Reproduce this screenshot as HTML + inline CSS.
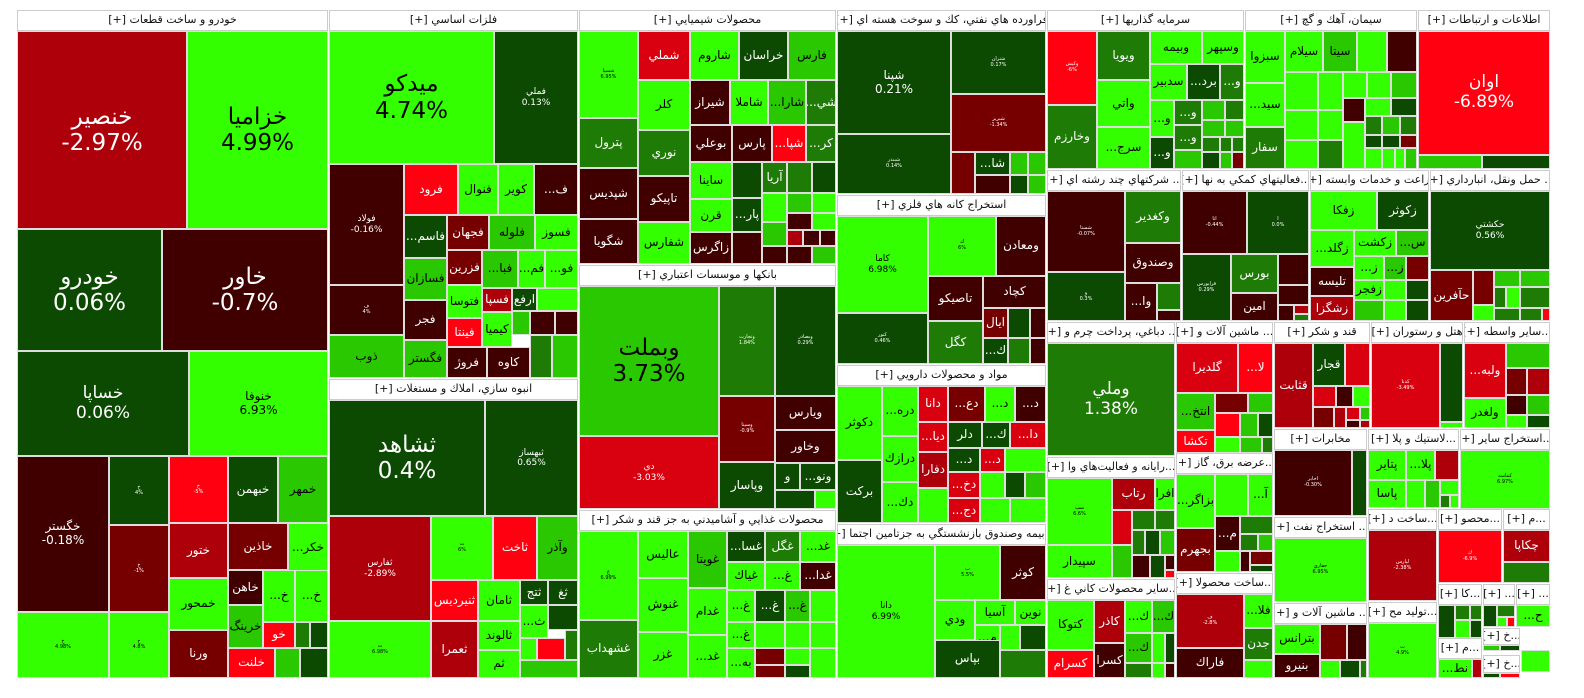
<!DOCTYPE html>
<html><head><meta charset="utf-8">
<style>
html,body{margin:0;padding:0;background:#fff;width:1584px;height:698px;overflow:hidden;position:relative}
.c{position:absolute;left:calc(var(--a)*1px);top:calc(var(--b)*1px);width:calc((var(--c) - var(--a))*1px);height:calc((var(--d) - var(--b))*1px);box-sizing:border-box;border:1px solid #ddd;display:flex;align-items:center;justify-content:center;text-align:center;overflow:hidden;font-family:"DejaVu Sans","Liberation Sans",sans-serif;direction:ltr;font-size:12px;line-height:1.15;white-space:nowrap}
.h{background:#fff;color:#111;font-size:11px;border:1px solid #ccc;direction:rtl}
.g1{background:#33ff00;color:#000}.g2{background:#2ac800;color:#000}.g3{background:#1e7b05;color:#fff}.g4{background:#0b4a00;color:#fff}
.r1{background:#ff0011;color:#fff}.r0{background:#d9000f;color:#fff}.r2{background:#ad000b;color:#fff}.r3{background:#760000;color:#fff}.r4{background:#400000;color:#fff}
.l{font-size:23px}.m2{font-size:17px}.s{font-size:9px}.t{font-size:5px}
</style></head><body>
<!-- Sector 1 -->
<div class="c h" style="--a:17;--b:10;--c:328;--d:31">خودرو و ساخت قطعات [+]</div>
<div class="c r2 l" style="--a:17;--b:31;--c:187;--d:229">خنصير<br>-2.97%</div>
<div class="c g1 l" style="--a:187;--b:31;--c:328;--d:229">خزاميا<br>4.99%</div>
<div class="c g4 l" style="--a:17;--b:229;--c:162;--d:351">خودرو<br>0.06%</div>
<div class="c r4 l" style="--a:162;--b:229;--c:328;--d:351">خاور<br>-0.7%</div>
<div class="c g4 m2" style="--a:17;--b:351;--c:189;--d:456">خساپا<br>0.06%</div>
<div class="c g1" style="--a:189;--b:351;--c:328;--d:456">خنوفا<br>6.93%</div>
<div class="c r4" style="--a:17;--b:456;--c:109;--d:612">خگستر<br>-0.18%</div>
<div class="c g1 t" style="--a:17;--b:612;--c:109;--d:678">خ<br>4.98%</div>
<div class="c g4 t" style="--a:109;--b:456;--c:169;--d:525">خ<br>4%</div>
<div class="c r3 t" style="--a:109;--b:525;--c:169;--d:612">خ<br>-1%</div>
<div class="c g1 t" style="--a:109;--b:612;--c:169;--d:678">خ<br>4.8%</div>
<div class="c r1 t" style="--a:169;--b:456;--c:228;--d:523">خ<br>-5%</div>
<div class="c g4" style="--a:228;--b:456;--c:278;--d:523">خبهمن</div>
<div class="c g2" style="--a:278;--b:456;--c:328;--d:523">خمهر</div>
<div class="c r2" style="--a:169;--b:523;--c:228;--d:578">ختور</div>
<div class="c r3" style="--a:228;--b:523;--c:288;--d:570">خاذين</div>
<div class="c g1" style="--a:288;--b:523;--c:328;--d:572">...خكر</div>
<div class="c g1" style="--a:169;--b:578;--c:228;--d:630">خمحور</div>
<div class="c r4" style="--a:228;--b:570;--c:263;--d:605">خاهن</div>
<div class="c g1" style="--a:263;--b:570;--c:295;--d:622">...خ</div>
<div class="c g1" style="--a:295;--b:570;--c:328;--d:622">...خ</div>
<div class="c g2" style="--a:228;--b:605;--c:263;--d:648">خرينگ</div>
<div class="c r1" style="--a:263;--b:622;--c:295;--d:648">خو</div>
<div class="c g3" style="--a:295;--b:622;--c:310;--d:648"></div>
<div class="c g4" style="--a:310;--b:622;--c:328;--d:648"></div>
<div class="c r3" style="--a:169;--b:630;--c:228;--d:678">ورنا</div>
<div class="c r1" style="--a:228;--b:648;--c:275;--d:678">خلنت</div>
<div class="c g2" style="--a:275;--b:648;--c:300;--d:678"></div>
<div class="c g4" style="--a:300;--b:648;--c:328;--d:678"></div>
<!-- Sector 2 -->
<div class="c h" style="--a:329;--b:10;--c:578;--d:31">فلزات اساسي [+]</div>
<div class="c g1 l" style="--a:329;--b:31;--c:494;--d:164">ميدكو<br>4.74%</div>
<div class="c g4 s" style="--a:494;--b:31;--c:578;--d:164">فملي<br>0.13%</div>
<div class="c r4 s" style="--a:329;--b:164;--c:404;--d:285">فولاد<br>-0.16%</div>
<div class="c r4 t" style="--a:329;--b:285;--c:404;--d:335">ف<br>4%</div>
<div class="c g2" style="--a:329;--b:335;--c:404;--d:378">ذوب</div>
<div class="c r1" style="--a:404;--b:164;--c:458;--d:215">فرود</div>
<div class="c g1" style="--a:458;--b:164;--c:498;--d:215">فنوال</div>
<div class="c g1" style="--a:498;--b:164;--c:534;--d:215">كوير</div>
<div class="c r4" style="--a:534;--b:164;--c:578;--d:215">...ف</div>
<div class="c g4" style="--a:404;--b:215;--c:447;--d:258">...فاسم</div>
<div class="c r3" style="--a:447;--b:215;--c:489;--d:250">فجهان</div>
<div class="c g2" style="--a:489;--b:215;--c:535;--d:250">فلوله</div>
<div class="c g1" style="--a:535;--b:215;--c:578;--d:250">فسوز</div>
<div class="c g2" style="--a:404;--b:258;--c:447;--d:300">فسازان</div>
<div class="c r3" style="--a:447;--b:250;--c:482;--d:285">فزرين</div>
<div class="c g2" style="--a:482;--b:250;--c:518;--d:288">...فبا</div>
<div class="c g1" style="--a:518;--b:250;--c:545;--d:288">...فم</div>
<div class="c g1" style="--a:545;--b:250;--c:578;--d:288">...فو</div>
<div class="c g1" style="--a:447;--b:285;--c:482;--d:318">فتوسا</div>
<div class="c r2" style="--a:482;--b:288;--c:512;--d:312">فسپا</div>
<div class="c g4" style="--a:512;--b:288;--c:537;--d:311">ارفع</div>
<div class="c g1" style="--a:537;--b:288;--c:578;--d:311"></div>
<div class="c r4" style="--a:404;--b:300;--c:447;--d:340">فجر</div>
<div class="c r1" style="--a:447;--b:318;--c:482;--d:347">فينتا</div>
<div class="c g1" style="--a:482;--b:312;--c:512;--d:347">كيميا</div>
<div class="c g2" style="--a:512;--b:311;--c:530;--d:335"></div>
<div class="c r4" style="--a:530;--b:311;--c:555;--d:335"></div>
<div class="c r4" style="--a:555;--b:311;--c:578;--d:335"></div>
<div class="c g2" style="--a:404;--b:340;--c:447;--d:378">فگستر</div>
<div class="c r4" style="--a:447;--b:347;--c:487;--d:378">فروژ</div>
<div class="c r4" style="--a:487;--b:347;--c:530;--d:378">كاوه</div>
<div class="c g3" style="--a:530;--b:335;--c:552;--d:378"></div>
<div class="c g2" style="--a:552;--b:335;--c:578;--d:378"></div>
<!-- Sector 3 -->
<div class="c h" style="--a:329;--b:379;--c:578;--d:400">انبوه سازي، املاك و مستغلات [+]</div>
<div class="c g4 l" style="--a:329;--b:400;--c:485;--d:516">ثشاهد<br>0.4%</div>
<div class="c g4 s" style="--a:485;--b:400;--c:578;--d:516">ثبهساز<br>0.65%</div>
<div class="c r2 s" style="--a:329;--b:516;--c:431;--d:621">ثفارس<br>-2.89%</div>
<div class="c g1 t" style="--a:329;--b:621;--c:431;--d:678">ث<br>6.98%</div>
<div class="c g1 t" style="--a:431;--b:516;--c:493;--d:580">ث<br>6%</div>
<div class="c r1" style="--a:493;--b:516;--c:537;--d:580">ثاخت</div>
<div class="c g2" style="--a:537;--b:516;--c:578;--d:580">وآذر</div>
<div class="c r1" style="--a:431;--b:580;--c:478;--d:621">ثنيرديس</div>
<div class="c g1" style="--a:478;--b:580;--c:520;--d:621">ثامان</div>
<div class="c g4" style="--a:520;--b:580;--c:548;--d:605">ثتج</div>
<div class="c g4" style="--a:548;--b:580;--c:578;--d:605">ثغ</div>
<div class="c g1" style="--a:520;--b:605;--c:548;--d:638">...ث</div>
<div class="c g4" style="--a:548;--b:605;--c:578;--d:630"></div>
<div class="c r2" style="--a:431;--b:621;--c:478;--d:678">ثعمرا</div>
<div class="c g1" style="--a:478;--b:621;--c:520;--d:650">ثالوند</div>
<div class="c g1" style="--a:478;--b:650;--c:520;--d:678">ثم</div>
<div class="c g1" style="--a:520;--b:638;--c:537;--d:660"></div>
<div class="c r1" style="--a:537;--b:638;--c:565;--d:660"></div>
<div class="c g3" style="--a:565;--b:630;--c:578;--d:660"></div>
<div class="c g2" style="--a:520;--b:660;--c:578;--d:678"></div>
<!-- Sector 4 -->
<div class="c h" style="--a:579;--b:10;--c:836;--d:31">محصولات شيميايي [+]</div>
<div class="c g1 t" style="--a:579;--b:31;--c:638;--d:118">شسپا<br>6.95%</div>
<div class="c g3" style="--a:579;--b:118;--c:638;--d:168">پترول</div>
<div class="c r4" style="--a:579;--b:168;--c:638;--d:219">شپديس</div>
<div class="c r4" style="--a:579;--b:219;--c:638;--d:264">شگويا</div>
<div class="c r0" style="--a:638;--b:31;--c:690;--d:80">شملي</div>
<div class="c g1" style="--a:638;--b:80;--c:690;--d:130">كلر</div>
<div class="c g3" style="--a:638;--b:130;--c:690;--d:176">نوري</div>
<div class="c r4" style="--a:638;--b:176;--c:690;--d:222">تاپيكو</div>
<div class="c g1" style="--a:638;--b:222;--c:690;--d:264">شفارس</div>
<div class="c g1" style="--a:690;--b:31;--c:739;--d:80">شاروم</div>
<div class="c g4" style="--a:739;--b:31;--c:788;--d:80">خراسان</div>
<div class="c g2" style="--a:788;--b:31;--c:836;--d:80">فارس</div>
<div class="c r4" style="--a:690;--b:80;--c:730;--d:125">شيراز</div>
<div class="c g1" style="--a:730;--b:80;--c:768;--d:125">شاملا</div>
<div class="c g2" style="--a:768;--b:80;--c:806;--d:125">...شارا</div>
<div class="c g3" style="--a:806;--b:80;--c:836;--d:125">...شي</div>
<div class="c r4" style="--a:690;--b:125;--c:732;--d:162">بوعلي</div>
<div class="c r4" style="--a:732;--b:125;--c:772;--d:162">پارس</div>
<div class="c r1" style="--a:772;--b:125;--c:806;--d:162">...شپا</div>
<div class="c g3" style="--a:806;--b:125;--c:836;--d:162">...كر</div>
<div class="c g1" style="--a:690;--b:162;--c:732;--d:199">ساينا</div>
<div class="c g4" style="--a:732;--b:162;--c:762;--d:198"></div>
<div class="c g3" style="--a:762;--b:162;--c:787;--d:193">آريا</div>
<div class="c g3" style="--a:787;--b:162;--c:812;--d:193"></div>
<div class="c g4" style="--a:812;--b:162;--c:836;--d:193"></div>
<div class="c g1" style="--a:690;--b:199;--c:732;--d:232">قرن</div>
<div class="c g4" style="--a:732;--b:198;--c:762;--d:232">...پار</div>
<div class="c g1" style="--a:762;--b:193;--c:787;--d:222"></div>
<div class="c g2" style="--a:787;--b:193;--c:812;--d:213"></div>
<div class="c g1" style="--a:812;--b:193;--c:836;--d:213"></div>
<div class="c r4" style="--a:787;--b:213;--c:812;--d:230"></div>
<div class="c g1" style="--a:812;--b:213;--c:836;--d:230"></div>
<div class="c r4" style="--a:690;--b:232;--c:732;--d:264">زاگرس</div>
<div class="c r4" style="--a:732;--b:232;--c:762;--d:264"></div>
<div class="c g2" style="--a:762;--b:222;--c:787;--d:246"></div>
<div class="c r4" style="--a:762;--b:246;--c:787;--d:264"></div>
<div class="c r2" style="--a:787;--b:230;--c:803;--d:246"></div>
<div class="c r4" style="--a:803;--b:230;--c:820;--d:246"></div>
<div class="c r4" style="--a:820;--b:230;--c:836;--d:246"></div>
<div class="c r4" style="--a:787;--b:246;--c:812;--d:264"></div>
<div class="c g2" style="--a:812;--b:246;--c:836;--d:264"></div>
<!-- Sector 5 -->
<div class="c h" style="--a:579;--b:265;--c:836;--d:286">بانكها و موسسات اعتباري [+]</div>
<div class="c g2 l" style="--a:579;--b:286;--c:719;--d:436">وبملت<br>3.73%</div>
<div class="c g3 t" style="--a:719;--b:286;--c:775;--d:396">وتجارت<br>1.84%</div>
<div class="c g4 t" style="--a:775;--b:286;--c:836;--d:396">وبصادر<br>0.29%</div>
<div class="c r0 s" style="--a:579;--b:436;--c:719;--d:509">دي<br>-3.03%</div>
<div class="c r3 t" style="--a:719;--b:396;--c:775;--d:462">وسينا<br>-0.9%</div>
<div class="c r4" style="--a:775;--b:396;--c:836;--d:430">ويارس</div>
<div class="c r4" style="--a:775;--b:430;--c:836;--d:463">وخاور</div>
<div class="c g4" style="--a:719;--b:462;--c:775;--d:509">وپاسار</div>
<div class="c g4" style="--a:775;--b:463;--c:800;--d:490">و</div>
<div class="c g4" style="--a:800;--b:463;--c:836;--d:490">...ونو</div>
<div class="c g4" style="--a:775;--b:490;--c:815;--d:509"></div>
<div class="c g1" style="--a:815;--b:490;--c:836;--d:509"></div>
<!-- Sector 6 -->
<div class="c h" style="--a:579;--b:510;--c:836;--d:531">محصولات غذايي و آشاميدني به جز قند و شكر [+]</div>
<div class="c g1 t" style="--a:579;--b:531;--c:638;--d:620">غ<br>6.99%</div>
<div class="c g3" style="--a:579;--b:620;--c:638;--d:678">غشهداب</div>
<div class="c g1" style="--a:638;--b:531;--c:688;--d:578">عاليس</div>
<div class="c g1" style="--a:638;--b:578;--c:688;--d:632">غنوش</div>
<div class="c g1" style="--a:638;--b:632;--c:688;--d:678">غزر</div>
<div class="c g2" style="--a:688;--b:531;--c:727;--d:588">غويتا</div>
<div class="c g1" style="--a:688;--b:588;--c:727;--d:635">غدام</div>
<div class="c g1" style="--a:688;--b:635;--c:727;--d:678">...غد</div>
<div class="c g4" style="--a:727;--b:531;--c:765;--d:562">...غسا</div>
<div class="c g3" style="--a:765;--b:531;--c:800;--d:562">غگل</div>
<div class="c g1" style="--a:800;--b:531;--c:836;--d:562">...غد</div>
<div class="c g1" style="--a:727;--b:562;--c:765;--d:590">غياك</div>
<div class="c g1" style="--a:765;--b:562;--c:800;--d:590">...غ</div>
<div class="c r4" style="--a:800;--b:562;--c:836;--d:590">...غدا</div>
<div class="c g1" style="--a:727;--b:590;--c:755;--d:622">...غ</div>
<div class="c g4" style="--a:755;--b:590;--c:785;--d:622">...غ</div>
<div class="c g2" style="--a:785;--b:590;--c:810;--d:622">...غ</div>
<div class="c g1" style="--a:810;--b:590;--c:836;--d:622"></div>
<div class="c g1" style="--a:727;--b:622;--c:755;--d:648">...غ</div>
<div class="c g1" style="--a:755;--b:622;--c:785;--d:648"></div>
<div class="c g1" style="--a:785;--b:622;--c:810;--d:648"></div>
<div class="c g1" style="--a:810;--b:622;--c:836;--d:648"></div>
<div class="c g1" style="--a:727;--b:648;--c:755;--d:678">...به</div>
<div class="c r3" style="--a:755;--b:648;--c:785;--d:665"></div>
<div class="c g1" style="--a:785;--b:648;--c:810;--d:665"></div>
<div class="c g1" style="--a:810;--b:648;--c:836;--d:678"></div>
<div class="c r3" style="--a:755;--b:665;--c:785;--d:678"></div>
<div class="c g4" style="--a:785;--b:665;--c:810;--d:678"></div>
<!-- Sector 7 -->
<div class="c h" style="--a:837;--b:10;--c:1046;--d:31">فراورده هاي نفتي، كك و سوخت هسته اي [+]</div>
<div class="c g4" style="--a:837;--b:31;--c:951;--d:134">شپنا<br>0.21%</div>
<div class="c g4 t" style="--a:837;--b:134;--c:951;--d:194">شبندر<br>0.14%</div>
<div class="c g4 t" style="--a:951;--b:31;--c:1046;--d:94">شتران<br>0.17%</div>
<div class="c r3 t" style="--a:951;--b:94;--c:1046;--d:152">شبريز<br>-1.34%</div>
<div class="c r3" style="--a:951;--b:152;--c:975;--d:194"></div>
<div class="c g4" style="--a:975;--b:152;--c:1010;--d:175">...شا</div>
<div class="c g2" style="--a:1010;--b:152;--c:1028;--d:175"></div>
<div class="c g2" style="--a:1028;--b:152;--c:1046;--d:175"></div>
<div class="c r4" style="--a:975;--b:175;--c:1010;--d:194"></div>
<div class="c g4" style="--a:1010;--b:175;--c:1028;--d:194"></div>
<div class="c g2" style="--a:1028;--b:175;--c:1046;--d:194"></div>
<!-- Sector 8 -->
<div class="c h" style="--a:837;--b:195;--c:1046;--d:216">استخراج كانه هاي فلزي [+]</div>
<div class="c g1 s" style="--a:837;--b:216;--c:928;--d:313">كاما<br>6.98%</div>
<div class="c g1 t" style="--a:928;--b:216;--c:996;--d:276">ك<br>6%</div>
<div class="c r4" style="--a:996;--b:216;--c:1046;--d:276">ومعادن</div>
<div class="c r4" style="--a:928;--b:276;--c:983;--d:321">تاصيكو</div>
<div class="c r4" style="--a:983;--b:276;--c:1046;--d:308">كچاد</div>
<div class="c r3" style="--a:983;--b:308;--c:1008;--d:338">ايال</div>
<div class="c g4" style="--a:1008;--b:308;--c:1030;--d:338"></div>
<div class="c r4" style="--a:1030;--b:308;--c:1046;--d:338"></div>
<div class="c g4 t" style="--a:837;--b:313;--c:928;--d:364">كنور<br>0.46%</div>
<div class="c g3" style="--a:928;--b:321;--c:983;--d:364">كگل</div>
<div class="c g4" style="--a:983;--b:338;--c:1008;--d:364">...ك</div>
<div class="c g3" style="--a:1008;--b:338;--c:1030;--d:364"></div>
<div class="c r4" style="--a:1030;--b:338;--c:1046;--d:364"></div>
<!-- Sector 9 -->
<div class="c h" style="--a:837;--b:365;--c:1046;--d:386">مواد و محصولات دارويي [+]</div>
<div class="c g1" style="--a:837;--b:386;--c:882;--d:460">دكوثر</div>
<div class="c g1" style="--a:882;--b:386;--c:918;--d:436">...دره</div>
<div class="c g1" style="--a:882;--b:436;--c:918;--d:482">درازك</div>
<div class="c g4" style="--a:837;--b:460;--c:882;--d:523">بركت</div>
<div class="c g1" style="--a:882;--b:482;--c:918;--d:523">...دك</div>
<div class="c r0" style="--a:918;--b:386;--c:948;--d:422">دانا</div>
<div class="c r3" style="--a:948;--b:386;--c:985;--d:422">...دع</div>
<div class="c g1" style="--a:985;--b:386;--c:1015;--d:422">...د</div>
<div class="c r4" style="--a:1015;--b:386;--c:1046;--d:422">...د</div>
<div class="c r0" style="--a:918;--b:422;--c:948;--d:452">...ديا</div>
<div class="c g4" style="--a:948;--b:422;--c:982;--d:448">دلر</div>
<div class="c g4" style="--a:982;--b:422;--c:1010;--d:448">...ك</div>
<div class="c r0" style="--a:1010;--b:422;--c:1046;--d:448">...دا</div>
<div class="c r2" style="--a:918;--b:452;--c:948;--d:488">دفارا</div>
<div class="c g4" style="--a:948;--b:448;--c:980;--d:472">...د</div>
<div class="c r0" style="--a:980;--b:448;--c:1005;--d:472">...د</div>
<div class="c g1" style="--a:1005;--b:448;--c:1046;--d:472"></div>
<div class="c r0" style="--a:948;--b:472;--c:980;--d:498">...دخ</div>
<div class="c g1" style="--a:980;--b:472;--c:1005;--d:498"></div>
<div class="c g4" style="--a:1005;--b:472;--c:1025;--d:498"></div>
<div class="c g2" style="--a:1025;--b:472;--c:1046;--d:498"></div>
<div class="c g1" style="--a:918;--b:488;--c:948;--d:523"></div>
<div class="c r0" style="--a:948;--b:498;--c:980;--d:523">...دج</div>
<div class="c g1" style="--a:980;--b:498;--c:1010;--d:523"></div>
<div class="c g1" style="--a:1010;--b:498;--c:1046;--d:523"></div>
<!-- Sector 10 -->
<div class="c h" style="--a:837;--b:524;--c:1046;--d:545">...بيمه وصندوق بازنشستگي به جزتامين اجتما [+]</div>
<div class="c g1 s" style="--a:837;--b:545;--c:935;--d:678">دانا<br>6.99%</div>
<div class="c g1 t" style="--a:935;--b:545;--c:1000;--d:600">ب<br>5.5%</div>
<div class="c r4" style="--a:1000;--b:545;--c:1046;--d:600">كوثر</div>
<div class="c g1" style="--a:935;--b:600;--c:975;--d:640">ودي</div>
<div class="c g1" style="--a:975;--b:600;--c:1015;--d:625">آسيا</div>
<div class="c g1" style="--a:1015;--b:600;--c:1046;--d:625">نوين</div>
<div class="c g1" style="--a:975;--b:625;--c:1000;--d:650">...م</div>
<div class="c g1" style="--a:1000;--b:625;--c:1020;--d:650"></div>
<div class="c g4" style="--a:1020;--b:625;--c:1046;--d:650"></div>
<div class="c g4" style="--a:935;--b:640;--c:1000;--d:678">بپاس</div>
<div class="c g3" style="--a:1000;--b:650;--c:1046;--d:678"></div>
<!-- Sector 11 -->
<div class="c h" style="--a:1047;--b:10;--c:1244;--d:31">سرمايه گذاريها [+]</div>
<div class="c r1 t" style="--a:1047;--b:31;--c:1097;--d:105">وكيش<br>-6%</div>
<div class="c g3" style="--a:1047;--b:105;--c:1097;--d:169">وخارزم</div>
<div class="c g3" style="--a:1097;--b:31;--c:1150;--d:80">ويويا</div>
<div class="c g1" style="--a:1097;--b:80;--c:1150;--d:127">واتي</div>
<div class="c g1" style="--a:1097;--b:127;--c:1150;--d:169">...سرج</div>
<div class="c g1" style="--a:1150;--b:31;--c:1202;--d:64">وبيمه</div>
<div class="c g1" style="--a:1202;--b:31;--c:1244;--d:64">وسپهر</div>
<div class="c g1" style="--a:1150;--b:64;--c:1187;--d:100">سدبير</div>
<div class="c g4" style="--a:1187;--b:64;--c:1220;--d:100">...برد</div>
<div class="c g3" style="--a:1220;--b:64;--c:1244;--d:100">...و</div>
<div class="c g1" style="--a:1150;--b:100;--c:1174;--d:137">...و</div>
<div class="c g3" style="--a:1174;--b:100;--c:1202;--d:125">...و</div>
<div class="c g2" style="--a:1202;--b:100;--c:1225;--d:120"></div>
<div class="c g3" style="--a:1225;--b:100;--c:1244;--d:120"></div>
<div class="c g4" style="--a:1150;--b:137;--c:1174;--d:169">...و</div>
<div class="c g3" style="--a:1174;--b:125;--c:1202;--d:150">...و</div>
<div class="c g2" style="--a:1202;--b:120;--c:1225;--d:137"></div>
<div class="c g2" style="--a:1225;--b:120;--c:1244;--d:137"></div>
<div class="c g2" style="--a:1174;--b:150;--c:1202;--d:169"></div>
<div class="c g3" style="--a:1202;--b:137;--c:1220;--d:152"></div>
<div class="c g3" style="--a:1220;--b:137;--c:1232;--d:152"></div>
<div class="c g3" style="--a:1232;--b:137;--c:1244;--d:152"></div>
<div class="c g4" style="--a:1202;--b:152;--c:1220;--d:169"></div>
<div class="c g2" style="--a:1220;--b:152;--c:1232;--d:169"></div>
<div class="c r3" style="--a:1232;--b:152;--c:1244;--d:169"></div>
<!-- Sector 12 -->
<div class="c h" style="--a:1245;--b:10;--c:1417;--d:31">سيمان، آهك و گچ [+]</div>
<div class="c g1" style="--a:1245;--b:31;--c:1285;--d:83">سبزوا</div>
<div class="c g1" style="--a:1245;--b:83;--c:1285;--d:127">...سيد</div>
<div class="c g3" style="--a:1245;--b:127;--c:1285;--d:169">سفار</div>
<div class="c g1" style="--a:1285;--b:31;--c:1323;--d:72">سيلام</div>
<div class="c g2" style="--a:1323;--b:31;--c:1357;--d:72">سيتا</div>
<div class="c g1" style="--a:1357;--b:31;--c:1387;--d:72"></div>
<div class="c r4" style="--a:1387;--b:31;--c:1417;--d:72"></div>
<div class="c g1" style="--a:1285;--b:72;--c:1318;--d:110"></div>
<div class="c g1" style="--a:1318;--b:72;--c:1343;--d:110"></div>
<div class="c g1" style="--a:1343;--b:72;--c:1367;--d:98"></div>
<div class="c g1" style="--a:1367;--b:72;--c:1391;--d:98"></div>
<div class="c g2" style="--a:1391;--b:72;--c:1417;--d:98"></div>
<div class="c g1" style="--a:1285;--b:110;--c:1318;--d:140"></div>
<div class="c g1" style="--a:1318;--b:110;--c:1343;--d:140"></div>
<div class="c r4" style="--a:1343;--b:98;--c:1365;--d:122"></div>
<div class="c g1" style="--a:1365;--b:98;--c:1391;--d:116"></div>
<div class="c g4" style="--a:1391;--b:98;--c:1417;--d:116"></div>
<div class="c g3" style="--a:1365;--b:116;--c:1382;--d:135"></div>
<div class="c g2" style="--a:1382;--b:116;--c:1400;--d:135"></div>
<div class="c g3" style="--a:1400;--b:116;--c:1417;--d:135"></div>
<div class="c g1" style="--a:1285;--b:140;--c:1318;--d:169"></div>
<div class="c g3" style="--a:1318;--b:140;--c:1343;--d:169"></div>
<div class="c g1" style="--a:1343;--b:122;--c:1365;--d:169"></div>
<div class="c g4" style="--a:1365;--b:135;--c:1382;--d:148"></div>
<div class="c g4" style="--a:1382;--b:135;--c:1400;--d:148"></div>
<div class="c r3" style="--a:1400;--b:135;--c:1417;--d:148"></div>
<div class="c g1" style="--a:1365;--b:148;--c:1382;--d:169"></div>
<div class="c g1" style="--a:1382;--b:148;--c:1395;--d:169"></div>
<div class="c g1" style="--a:1395;--b:148;--c:1405;--d:169"></div>
<div class="c g2" style="--a:1405;--b:148;--c:1417;--d:169"></div>
<!-- Sector 13 -->
<div class="c h" style="--a:1418;--b:10;--c:1550;--d:31">اطلاعات و ارتباطات [+]</div>
<div class="c r1 m2" style="--a:1418;--b:31;--c:1550;--d:155">اوان<br>-6.89%</div>
<div class="c g2" style="--a:1418;--b:155;--c:1482;--d:169"></div>
<div class="c g4" style="--a:1482;--b:155;--c:1550;--d:169"></div>
<!-- Sector 14 -->
<div class="c h" style="--a:1047;--b:170;--c:1181;--d:191">... شركتهاي چند رشته اي [+]</div>
<div class="c r4 t" style="--a:1047;--b:191;--c:1125;--d:272">شستا<br>-0.07%</div>
<div class="c g3" style="--a:1125;--b:191;--c:1181;--d:243">وكغدير</div>
<div class="c r4" style="--a:1125;--b:243;--c:1181;--d:283">وصندوق</div>
<div class="c g4 t" style="--a:1047;--b:272;--c:1125;--d:321">و<br>0.3%</div>
<div class="c r4" style="--a:1125;--b:283;--c:1157;--d:321">...وا</div>
<div class="c g3" style="--a:1157;--b:283;--c:1181;--d:310"></div>
<div class="c r4" style="--a:1157;--b:310;--c:1181;--d:321"></div>
<!-- Sector 15 -->
<div class="c h" style="--a:1182;--b:170;--c:1309;--d:191">...فعاليتهاي كمكي به نها [+]</div>
<div class="c r4 t" style="--a:1182;--b:191;--c:1247;--d:254">اتا<br>-0.44%</div>
<div class="c g4 t" style="--a:1247;--b:191;--c:1309;--d:254">ا<br>0.0%</div>
<div class="c g4 t" style="--a:1182;--b:254;--c:1231;--d:321">فرابورس<br>0.29%</div>
<div class="c g3" style="--a:1231;--b:254;--c:1278;--d:293">بورس</div>
<div class="c r4" style="--a:1231;--b:293;--c:1278;--d:321">امين</div>
<div class="c r4" style="--a:1278;--b:254;--c:1309;--d:285"></div>
<div class="c r4" style="--a:1278;--b:285;--c:1309;--d:305"></div>
<div class="c r4" style="--a:1278;--b:305;--c:1294;--d:321"></div>
<div class="c r2" style="--a:1294;--b:305;--c:1309;--d:314"></div>
<div class="c g3" style="--a:1294;--b:314;--c:1309;--d:321"></div>
<!-- Sector 16 -->
<div class="c h" style="--a:1310;--b:170;--c:1429;--d:191">زراعت و خدمات وابسته [+]</div>
<div class="c g1" style="--a:1310;--b:191;--c:1377;--d:230">زفكا</div>
<div class="c g4" style="--a:1377;--b:191;--c:1429;--d:230">زكوثر</div>
<div class="c g1" style="--a:1310;--b:230;--c:1354;--d:267">...زگلد</div>
<div class="c g1" style="--a:1354;--b:230;--c:1396;--d:256">زكشت</div>
<div class="c g2" style="--a:1396;--b:230;--c:1429;--d:256">...س</div>
<div class="c g1" style="--a:1354;--b:256;--c:1384;--d:280">...ز</div>
<div class="c g2" style="--a:1384;--b:256;--c:1406;--d:280">...ز</div>
<div class="c r3" style="--a:1406;--b:256;--c:1429;--d:280"></div>
<div class="c r4" style="--a:1310;--b:267;--c:1354;--d:296">تليسه</div>
<div class="c g1" style="--a:1354;--b:280;--c:1384;--d:300">زفجر</div>
<div class="c g1" style="--a:1384;--b:280;--c:1406;--d:300"></div>
<div class="c g4" style="--a:1406;--b:280;--c:1429;--d:300"></div>
<div class="c r2" style="--a:1310;--b:296;--c:1354;--d:321">زشگزا</div>
<div class="c g2" style="--a:1354;--b:300;--c:1384;--d:321"></div>
<div class="c g1" style="--a:1384;--b:300;--c:1406;--d:321"></div>
<div class="c g4" style="--a:1406;--b:300;--c:1429;--d:321"></div>
<!-- Sector 17 -->
<div class="c h" style="--a:1430;--b:170;--c:1550;--d:191">... حمل ونقل، انبارداري [+]</div>
<div class="c g4 s" style="--a:1430;--b:191;--c:1550;--d:270">حكشتي<br>0.56%</div>
<div class="c r3" style="--a:1430;--b:270;--c:1473;--d:321">حآفرين</div>
<div class="c r3" style="--a:1473;--b:270;--c:1494;--d:305"></div>
<div class="c g1" style="--a:1473;--b:305;--c:1494;--d:321"></div>
<div class="c g2" style="--a:1494;--b:270;--c:1520;--d:287"></div>
<div class="c g2" style="--a:1520;--b:270;--c:1550;--d:287"></div>
<div class="c g3" style="--a:1494;--b:287;--c:1506;--d:308"></div>
<div class="c g1" style="--a:1506;--b:287;--c:1520;--d:308"></div>
<div class="c g3" style="--a:1520;--b:287;--c:1550;--d:308"></div>
<div class="c g3" style="--a:1494;--b:308;--c:1520;--d:321"></div>
<div class="c g3" style="--a:1520;--b:308;--c:1542;--d:321"></div>
<div class="c r1" style="--a:1542;--b:308;--c:1550;--d:321"></div>
<!-- Sector 18 -->
<div class="c h" style="--a:1047;--b:322;--c:1175;--d:343">... دباغي، پرداخت چرم و [+]</div>
<div class="c g3 m2" style="--a:1047;--b:343;--c:1175;--d:456">وملي<br>1.38%</div>
<!-- Sector 19 -->
<div class="c h" style="--a:1176;--b:322;--c:1273;--d:343">... ماشين آلات و [+]</div>
<div class="c r0" style="--a:1176;--b:343;--c:1238;--d:393">گلديرا</div>
<div class="c r1" style="--a:1238;--b:343;--c:1273;--d:393">...لا</div>
<div class="c g2" style="--a:1176;--b:393;--c:1215;--d:430">...انتخ</div>
<div class="c r1" style="--a:1176;--b:430;--c:1215;--d:453">تكشا</div>
<div class="c r3" style="--a:1215;--b:393;--c:1248;--d:413"></div>
<div class="c g2" style="--a:1248;--b:393;--c:1273;--d:413"></div>
<div class="c r1" style="--a:1215;--b:413;--c:1240;--d:437"></div>
<div class="c g2" style="--a:1240;--b:413;--c:1258;--d:437"></div>
<div class="c g4" style="--a:1258;--b:413;--c:1273;--d:437"></div>
<div class="c g1" style="--a:1215;--b:437;--c:1240;--d:453"></div>
<div class="c g2" style="--a:1240;--b:437;--c:1262;--d:453"></div>
<div class="c g3" style="--a:1262;--b:437;--c:1273;--d:453"></div>
<!-- Sector 20 -->
<div class="c h" style="--a:1047;--b:457;--c:1175;--d:478">...رايانه و فعاليت‌هاي وا [+]</div>
<div class="c g1 t" style="--a:1047;--b:478;--c:1112;--d:545">سپ<br>6.6%</div>
<div class="c g1" style="--a:1047;--b:545;--c:1112;--d:578">سپيدار</div>
<div class="c r2" style="--a:1112;--b:478;--c:1155;--d:510">رتاب</div>
<div class="c g1" style="--a:1155;--b:478;--c:1175;--d:510">افرا</div>
<div class="c r0" style="--a:1112;--b:510;--c:1132;--d:545"></div>
<div class="c g3" style="--a:1132;--b:510;--c:1155;--d:530"></div>
<div class="c g3" style="--a:1155;--b:510;--c:1175;--d:530"></div>
<div class="c g3" style="--a:1132;--b:530;--c:1145;--d:555"></div>
<div class="c g4" style="--a:1145;--b:530;--c:1160;--d:555"></div>
<div class="c g2" style="--a:1160;--b:530;--c:1175;--d:555"></div>
<div class="c g2" style="--a:1112;--b:545;--c:1132;--d:578"></div>
<div class="c r4" style="--a:1132;--b:555;--c:1150;--d:578"></div>
<div class="c g4" style="--a:1150;--b:555;--c:1165;--d:578"></div>
<div class="c r4" style="--a:1165;--b:555;--c:1175;--d:570"></div>
<div class="c r1" style="--a:1165;--b:570;--c:1175;--d:578"></div>
<!-- Sector 21 -->
<div class="c h" style="--a:1176;--b:453;--c:1273;--d:474">...عرضه برق، گاز [+]</div>
<div class="c g1" style="--a:1176;--b:474;--c:1215;--d:528">...بزاگر</div>
<div class="c g1" style="--a:1215;--b:474;--c:1248;--d:516"></div>
<div class="c g1" style="--a:1248;--b:474;--c:1273;--d:516">...آ</div>
<div class="c r3" style="--a:1176;--b:528;--c:1215;--d:572">بجهرم</div>
<div class="c r4" style="--a:1215;--b:516;--c:1240;--d:551">...م</div>
<div class="c g3" style="--a:1240;--b:516;--c:1273;--d:534"></div>
<div class="c g3" style="--a:1240;--b:534;--c:1258;--d:551"></div>
<div class="c g2" style="--a:1258;--b:534;--c:1273;--d:551"></div>
<div class="c g1" style="--a:1215;--b:551;--c:1240;--d:572"></div>
<div class="c r4" style="--a:1240;--b:551;--c:1250;--d:572"></div>
<div class="c r3" style="--a:1250;--b:551;--c:1273;--d:565"></div>
<div class="c g4" style="--a:1250;--b:565;--c:1273;--d:572"></div>
<!-- Sector 22 -->
<div class="c h" style="--a:1047;--b:579;--c:1175;--d:600">...ساير محصولات كاني غ [+]</div>
<div class="c g1" style="--a:1047;--b:600;--c:1094;--d:650">كتوكا</div>
<div class="c r1" style="--a:1047;--b:650;--c:1094;--d:678">كسرام</div>
<div class="c r2" style="--a:1094;--b:600;--c:1125;--d:643">كاذر</div>
<div class="c r4" style="--a:1094;--b:643;--c:1125;--d:678">كسرا</div>
<div class="c g1" style="--a:1125;--b:600;--c:1152;--d:633">...ك</div>
<div class="c g2" style="--a:1152;--b:600;--c:1175;--d:633">...ك</div>
<div class="c g2" style="--a:1125;--b:633;--c:1152;--d:663">...ك</div>
<div class="c g1" style="--a:1152;--b:633;--c:1165;--d:663"></div>
<div class="c g4" style="--a:1165;--b:633;--c:1175;--d:663"></div>
<div class="c g3" style="--a:1125;--b:663;--c:1152;--d:678"></div>
<div class="c g1" style="--a:1152;--b:663;--c:1165;--d:678"></div>
<div class="c r4" style="--a:1165;--b:663;--c:1175;--d:678"></div>
<!-- Sector 23 -->
<div class="c h" style="--a:1176;--b:573;--c:1273;--d:594">...ساخت محصولا [+]</div>
<div class="c r2 t" style="--a:1176;--b:594;--c:1244;--d:648">ف<br>-2.8%</div>
<div class="c g1" style="--a:1244;--b:594;--c:1273;--d:628">...فلا</div>
<div class="c g3" style="--a:1244;--b:628;--c:1273;--d:660">جدن</div>
<div class="c r4" style="--a:1176;--b:648;--c:1244;--d:678">فاراك</div>
<div class="c g1" style="--a:1244;--b:660;--c:1273;--d:678"></div>
<!-- Sector 24 -->
<div class="c h" style="--a:1274;--b:322;--c:1370;--d:343">قند و شكر [+]</div>
<div class="c r2" style="--a:1274;--b:343;--c:1313;--d:428">قثابت</div>
<div class="c g4" style="--a:1313;--b:343;--c:1345;--d:386">قجار</div>
<div class="c r0" style="--a:1345;--b:343;--c:1370;--d:386"></div>
<div class="c r0" style="--a:1313;--b:386;--c:1336;--d:407"></div>
<div class="c r4" style="--a:1336;--b:386;--c:1353;--d:407"></div>
<div class="c g1" style="--a:1353;--b:386;--c:1370;--d:407"></div>
<div class="c r3" style="--a:1313;--b:407;--c:1334;--d:428"></div>
<div class="c r2" style="--a:1334;--b:407;--c:1346;--d:428"></div>
<div class="c r0" style="--a:1346;--b:407;--c:1360;--d:420"></div>
<div class="c g2" style="--a:1360;--b:407;--c:1370;--d:420"></div>
<div class="c r4" style="--a:1346;--b:420;--c:1360;--d:428"></div>
<div class="c r2" style="--a:1360;--b:420;--c:1370;--d:428"></div>
<!-- Sector 25 -->
<div class="c h" style="--a:1371;--b:322;--c:1463;--d:343">هتل و رستوران [+]</div>
<div class="c r0 t" style="--a:1371;--b:343;--c:1440;--d:428">كدنا<br>-3.49%</div>
<div class="c g4" style="--a:1440;--b:343;--c:1463;--d:422"></div>
<div class="c g1" style="--a:1440;--b:422;--c:1463;--d:428"></div>
<!-- Sector 26 -->
<div class="c h" style="--a:1464;--b:322;--c:1550;--d:343">...ساير واسطه [+]</div>
<div class="c r0" style="--a:1464;--b:343;--c:1506;--d:398">...ولبه</div>
<div class="c g1" style="--a:1464;--b:398;--c:1506;--d:428">ولغدر</div>
<div class="c g2" style="--a:1506;--b:343;--c:1550;--d:368"></div>
<div class="c r3" style="--a:1506;--b:368;--c:1527;--d:395"></div>
<div class="c r2" style="--a:1527;--b:368;--c:1550;--d:395"></div>
<div class="c r4" style="--a:1506;--b:395;--c:1527;--d:415"></div>
<div class="c g2" style="--a:1527;--b:395;--c:1550;--d:415"></div>
<div class="c g1" style="--a:1506;--b:415;--c:1527;--d:428"></div>
<div class="c g4" style="--a:1527;--b:415;--c:1550;--d:428"></div>
<!-- Sector 27 -->
<div class="c h" style="--a:1274;--b:429;--c:1367;--d:450">مخابرات [+]</div>
<div class="c r4 t" style="--a:1274;--b:450;--c:1352;--d:516">اخابر<br>-0.30%</div>
<div class="c g4" style="--a:1352;--b:450;--c:1367;--d:516"></div>
<!-- Sector 28 -->
<div class="c h" style="--a:1368;--b:429;--c:1459;--d:450">...لاستيك و پلا [+]</div>
<div class="c g1" style="--a:1368;--b:450;--c:1406;--d:480">پتاير</div>
<div class="c g1" style="--a:1406;--b:450;--c:1435;--d:480">...پلا</div>
<div class="c r2" style="--a:1435;--b:450;--c:1459;--d:480"></div>
<div class="c g1" style="--a:1368;--b:480;--c:1406;--d:508">پاسا</div>
<div class="c g1" style="--a:1406;--b:480;--c:1425;--d:508"></div>
<div class="c g2" style="--a:1425;--b:480;--c:1440;--d:508"></div>
<div class="c g1" style="--a:1440;--b:480;--c:1459;--d:495"></div>
<div class="c g3" style="--a:1440;--b:495;--c:1450;--d:508"></div>
<div class="c g1" style="--a:1450;--b:495;--c:1459;--d:508"></div>
<!-- Sector 29 -->
<div class="c h" style="--a:1460;--b:429;--c:1550;--d:450">...استخراج ساير [+]</div>
<div class="c g1 t" style="--a:1460;--b:450;--c:1550;--d:509">كماسه<br>6.97%</div>
<!-- Sector 30 -->
<div class="c h" style="--a:1274;--b:517;--c:1367;--d:538">... استخراج نفت [+]</div>
<div class="c g1 t" style="--a:1274;--b:538;--c:1367;--d:602">حفاري<br>6.95%</div>
<!-- Sector 31 -->
<div class="c h" style="--a:1274;--b:603;--c:1367;--d:624">... ماشين آلات و [+]</div>
<div class="c g1" style="--a:1274;--b:624;--c:1320;--d:654">بترانس</div>
<div class="c r4" style="--a:1274;--b:654;--c:1320;--d:678">بنيرو</div>
<div class="c r3" style="--a:1320;--b:624;--c:1347;--d:660"></div>
<div class="c r4" style="--a:1347;--b:624;--c:1367;--d:660"></div>
<div class="c g1" style="--a:1320;--b:660;--c:1340;--d:678"></div>
<div class="c g4" style="--a:1340;--b:660;--c:1360;--d:678"></div>
<div class="c g3" style="--a:1360;--b:660;--c:1367;--d:678"></div>
<!-- Sector 32-35 -->
<div class="c h" style="--a:1368;--b:509;--c:1437;--d:530">...ساخت د [+]</div>
<div class="c r2 t" style="--a:1368;--b:530;--c:1437;--d:601">لپارس<br>-2.38%</div>
<div class="c h" style="--a:1438;--b:509;--c:1502;--d:530">...محصو [+]</div>
<div class="c r1 t" style="--a:1438;--b:530;--c:1502;--d:583">ك<br>-6.9%</div>
<div class="c h" style="--a:1503;--b:509;--c:1550;--d:530">...م [+]</div>
<div class="c r2" style="--a:1503;--b:530;--c:1550;--d:562">چكاپا</div>
<div class="c g3" style="--a:1503;--b:562;--c:1550;--d:583"></div>
<div class="c h" style="--a:1368;--b:602;--c:1437;--d:623">...توليد مح [+]</div>
<div class="c g1 t" style="--a:1368;--b:623;--c:1437;--d:678">ت<br>4.9%</div>
<div class="c h" style="--a:1438;--b:584;--c:1482;--d:605">...كا [+]</div>
<div class="c g4" style="--a:1438;--b:605;--c:1455;--d:638"></div>
<div class="c g3" style="--a:1455;--b:605;--c:1470;--d:620"></div>
<div class="c g3" style="--a:1470;--b:605;--c:1482;--d:620"></div>
<div class="c g1" style="--a:1455;--b:620;--c:1470;--d:638"></div>
<div class="c g4" style="--a:1470;--b:620;--c:1482;--d:638"></div>
<div class="c h" style="--a:1483;--b:584;--c:1515;--d:605">... [+]</div>
<div class="c g4" style="--a:1483;--b:605;--c:1497;--d:627"></div>
<div class="c g3" style="--a:1497;--b:605;--c:1515;--d:617"></div>
<div class="c g1" style="--a:1497;--b:617;--c:1507;--d:627"></div>
<div class="c r1" style="--a:1507;--b:617;--c:1515;--d:627"></div>
<div class="c h" style="--a:1516;--b:584;--c:1550;--d:605">... [+]</div>
<div class="c g1" style="--a:1516;--b:605;--c:1550;--d:627">...ح</div>
<div class="c h" style="--a:1438;--b:638;--c:1482;--d:659">...م [+]</div>
<div class="c g1" style="--a:1438;--b:659;--c:1472;--d:678">...نط</div>
<div class="c r2" style="--a:1472;--b:659;--c:1482;--d:678"></div>
<div class="c h" style="--a:1483;--b:628;--c:1520;--d:645">...خ [+]</div>
<div class="c g2" style="--a:1483;--b:645;--c:1500;--d:651"></div>
<div class="c g4" style="--a:1500;--b:645;--c:1520;--d:651"></div>
<div class="c g1" style="--a:1521;--b:650;--c:1550;--d:672"></div>
<div class="c h" style="--a:1483;--b:655;--c:1520;--d:673">...خ [+]</div>
<div class="c g4" style="--a:1483;--b:673;--c:1500;--d:678"></div>
<div class="c r1" style="--a:1500;--b:673;--c:1520;--d:678"></div>
</body></html>
